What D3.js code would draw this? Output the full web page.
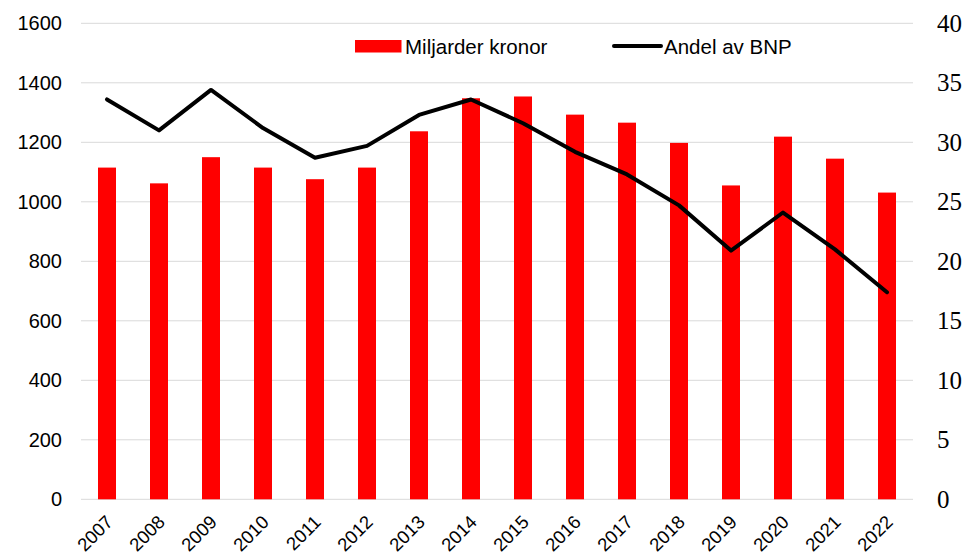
<!DOCTYPE html>
<html><head><meta charset="utf-8">
<script src="https://cdn.jsdelivr.net/npm/d3@7"></script>
<style>body{margin:0;background:#fff}</style>
</head><body>
<svg id="c" width="970" height="559"></svg>
<script>
const years = ["2007","2008","2009","2010","2011","2012","2013","2014","2015","2016","2017","2018","2019","2020","2021","2022"];
const billionsSEK = [1115,1062,1150,1115,1076,1115,1237,1348,1354,1293,1266,1198,1055,1219,1145,1031];
const shareOfGDP = [33.6,31.0,34.4,31.2,28.7,29.7,32.3,33.6,31.6,29.2,27.3,24.7,20.9,24.1,21.0,17.4];
const leftTicks = [0,200,400,600,800,1000,1200,1400,1600];
const rightTicks = [0,5,10,15,20,25,30,35,40];
const legendLabels = ["Miljarder kronor","Andel av BNP"];

const svg = d3.select("#c");
const L = 81, R = 913, T = 23.3, B = 499.3;
const x = d3.scaleBand().domain(years).range([L, R]).paddingInner(0.654).paddingOuter(0.327);
const yL = d3.scaleLinear().domain([0,1600]).range([B, T]);
const yR = d3.scaleLinear().domain([0,40]).range([B, T]);

// gridlines
svg.append("g").selectAll("line").data(leftTicks).join("line")
  .attr("x1", L).attr("x2", R)
  .attr("y1", d => yL(d)).attr("y2", d => yL(d))
  .attr("stroke", "#d9d9d9").attr("stroke-width", 1);

// left axis
const ga = svg.append("g").attr("transform", `translate(${L},0)`)
  .call(d3.axisLeft(yL).tickValues(leftTicks).tickFormat(d3.format("d")).tickSize(0).tickPadding(19));
ga.select(".domain").remove();
ga.selectAll("text").attr("font-family", "Liberation Sans, Arial, sans-serif").attr("font-size", 20).attr("fill", "#000");

// right axis
const gr = svg.append("g").attr("transform", `translate(${R},0)`)
  .call(d3.axisRight(yR).tickValues(rightTicks).tickSize(0).tickPadding(24));
gr.select(".domain").remove();
gr.selectAll("text").attr("font-family", "Liberation Serif, Times New Roman, serif").attr("font-size", 25).attr("fill", "#000");

// bars
svg.append("g").selectAll("rect").data(years).join("rect")
  .attr("x", d => x(d)).attr("width", x.bandwidth())
  .attr("y", (d,i) => yL(billionsSEK[i]))
  .attr("height", (d,i) => yL(0) - yL(billionsSEK[i]))
  .attr("fill", "#ff0000");

// line
const line = d3.line().x((d,i) => x(years[i]) + x.bandwidth()/2).y(d => yR(d));
svg.append("path").datum(shareOfGDP).attr("d", line)
  .attr("fill", "none").attr("stroke", "#000").attr("stroke-width", 4)
  .attr("stroke-linejoin", "round").attr("stroke-linecap", "round");

// x labels
const gx = svg.append("g").attr("transform", `translate(0,${B})`)
  .call(d3.axisBottom(x).tickSize(0).tickPadding(0));
gx.select(".domain").remove();
gx.selectAll("text")
  .attr("font-family", "Liberation Sans, Arial, sans-serif").attr("font-size", 18.5).attr("fill", "#000")
  .attr("text-anchor", "end").attr("dy", null).attr("y", 0)
  .attr("transform", "translate(7,24) rotate(-45)");

// legend
const lg = svg.append("g");
lg.append("rect").attr("x", 355).attr("y", 40).attr("width", 46.5).attr("height", 12.5).attr("fill", "#ff0000");
lg.append("text").attr("x", 405).attr("y", 53.5).text(legendLabels[0])
  .attr("font-family", "Liberation Sans, Arial, sans-serif").attr("font-size", 20.5);
lg.append("line").attr("x1", 614).attr("x2", 661).attr("y1", 46).attr("y2", 46)
  .attr("stroke", "#000").attr("stroke-width", 4).attr("stroke-linecap", "round");
lg.append("text").attr("x", 664).attr("y", 53.5).text(legendLabels[1])
  .attr("font-family", "Liberation Sans, Arial, sans-serif").attr("font-size", 20.5);
</script>
</body></html>
